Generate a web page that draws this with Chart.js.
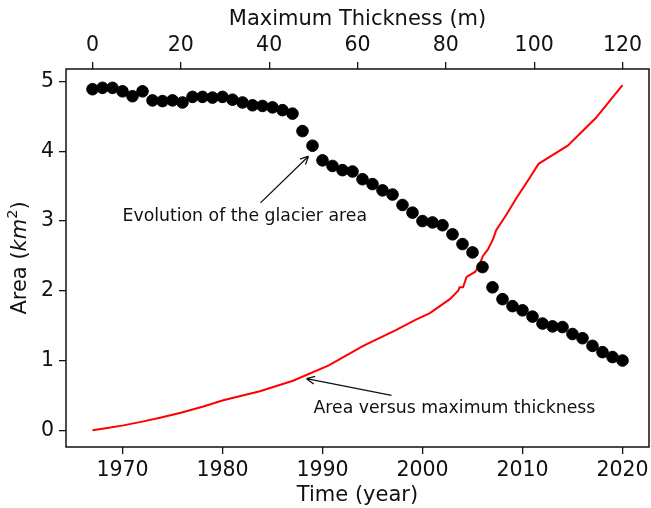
<!DOCTYPE html>
<html>
<head>
<meta charset="utf-8">
<script src="https://cdn.jsdelivr.net/npm/chart.js@4.4.0/dist/chart.umd.min.js"></script>
<style>
  html, body { margin: 0; padding: 0; background: #fff; }
  #wrap { width: 651px; height: 508px; }
</style>
</head>
<body>
<div id="wrap"><canvas id="chart"></canvas></div>
<script>
// glacier area per year (km2)
const years = [1967, 1968, 1969, 1970, 1971, 1972, 1973, 1974, 1975, 1976,
  1977, 1978, 1979, 1980, 1981, 1982, 1983, 1984, 1985, 1986,
  1987, 1988, 1989, 1990, 1991, 1992, 1993, 1994, 1995, 1996,
  1997, 1998, 1999, 2000, 2001, 2002, 2003, 2004, 2005, 2006,
  2007, 2008, 2009, 2010, 2011, 2012, 2013, 2014, 2015, 2016,
  2017, 2018, 2019, 2020];
const glacierArea = [4.89, 4.91, 4.91, 4.86, 4.79, 4.86, 4.73, 4.72, 4.73, 4.70,
  4.78, 4.78, 4.77, 4.78, 4.74, 4.70, 4.66, 4.65, 4.63, 4.59,
  4.54, 4.29, 4.08, 3.87, 3.79, 3.73, 3.71, 3.60, 3.53, 3.44,
  3.38, 3.23, 3.12, 3.00, 2.98, 2.94, 2.81, 2.67, 2.55, 2.34,
  2.05, 1.88, 1.78, 1.72, 1.63, 1.53, 1.49, 1.48, 1.38, 1.32,
  1.21, 1.12, 1.05, 1.00];

// area vs maximum thickness (m)
const thickness = [0, 3, 7, 11, 15.3, 20, 25.1, 29.6, 37.9, 45.4, 53.5, 61.3, 68.8, 73,
  76.4, 80.9, 82.8, 83.1, 83.9, 84.7, 86.6, 87.3, 88.4, 89.5, 90.7, 91.4,
  93.7, 96, 99, 101, 103.5, 107.6, 114, 120];
const thicknessArea = [0, 0.03, 0.07, 0.12, 0.18, 0.25, 0.34, 0.43, 0.56, 0.71, 0.93, 1.21, 1.44, 1.58,
  1.68, 1.88, 2.00, 2.05, 2.05, 2.20, 2.27, 2.33, 2.50, 2.59, 2.74, 2.87,
  3.09, 3.33, 3.62, 3.82, 3.92, 4.08, 4.48, 4.95];

const yearTicks = [1970, 1980, 1990, 2000, 2010, 2020];
const thicknessTicks = [0, 20, 40, 60, 80, 100, 120];
const areaTicks = [0, 1, 2, 3, 4, 5];

const notes = [
  { text: 'Evolution of the glacier area', at: [1970, 3.0], tail: [1983.8, 3.26], head: [1988.6, 3.93] },
  { text: 'Area versus maximum thickness', at: [1989.1, 0.25], tail: [1996.9, 0.50], head: [1988.4, 0.74] }
];

const FONT = 'DejaVu Sans';
const INK = '#111';
Chart.defaults.font.family = FONT;
Chart.defaults.color = INK;

const fixedTicks = list => scale => { scale.ticks = list.map(v => ({ value: v })); };
// keep the plot box fixed: no extra room for overhanging tick labels
const fixSize = (prop, px) => s => {
  s[prop] = px;
  s.paddingLeft = s.paddingRight = s.paddingTop = s.paddingBottom = 0;
};

const axisStyle = {
  grid: { display: true, drawOnChartArea: false, drawTicks: true, tickLength: 7, color: INK, lineWidth: 1.3 },
  border: { display: false },
  ticks: { color: INK, font: { size: 20.5 }, padding: 4 }
};

// frame, axis titles and arrow notes
const decorations = {
  id: 'decorations',
  afterDraw(chart) {
    const { ctx, chartArea: a, scales } = chart;
    ctx.save();
    ctx.strokeStyle = INK;
    ctx.lineWidth = 1.5;
    ctx.strokeRect(a.left, a.top, a.right - a.left, a.bottom - a.top);

    ctx.fillStyle = INK;
    ctx.font = `21px ${FONT}`;
    ctx.textAlign = 'center';
    ctx.textBaseline = 'middle';
    const cx = (a.left + a.right) / 2;
    ctx.fillText('Time (year)', cx, 496);
    ctx.fillText('Maximum Thickness (m)', cx, 20);

    // y title with italic km and superscript 2
    ctx.save();
    ctx.translate(21, (a.top + a.bottom) / 2);
    ctx.rotate(-Math.PI / 2);
    const parts = [
      ['Area (', `21px ${FONT}`, 0],
      ['km', `italic 21px ${FONT}`, 0],
      ['2', `14.5px ${FONT}`, -8],
      [')', `21px ${FONT}`, 0]
    ];
    let w = 0;
    parts.forEach(p => { ctx.font = p[1]; w += ctx.measureText(p[0]).width; });
    let x = -w / 2;
    ctx.textAlign = 'left';
    parts.forEach(p => {
      ctx.font = p[1];
      ctx.fillText(p[0], x, p[2]);
      x += ctx.measureText(p[0]).width;
    });
    ctx.restore();

    const X = scales.x, Y = scales.y;
    ctx.font = `17.3px ${FONT}`;
    ctx.textAlign = 'left';
    ctx.textBaseline = 'alphabetic';
    ctx.lineWidth = 1.3;
    notes.forEach(n => {
      ctx.fillText(n.text, X.getPixelForValue(n.at[0]), Y.getPixelForValue(n.at[1]));
      const tx = X.getPixelForValue(n.tail[0]), ty = Y.getPixelForValue(n.tail[1]);
      const hx = X.getPixelForValue(n.head[0]), hy = Y.getPixelForValue(n.head[1]);
      const ang = Math.atan2(hy - ty, hx - tx);
      ctx.beginPath();
      ctx.moveTo(tx, ty);
      ctx.lineTo(hx, hy);
      [0.45, -0.45].forEach(d => {
        ctx.moveTo(hx, hy);
        ctx.lineTo(hx - 9 * Math.cos(ang + d), hy - 9 * Math.sin(ang + d));
      });
      ctx.stroke();
    });
    ctx.restore();
  }
};

new Chart(document.getElementById('chart'), {
  type: 'scatter',
  data: {
    datasets: [
      {
        label: 'Glacier area',
        data: years.map((yr, i) => ({ x: yr, y: glacierArea[i] })),
        xAxisID: 'x',
        yAxisID: 'y',
        backgroundColor: '#000',
        borderColor: '#000',
        pointRadius: 5.8,
        pointHoverRadius: 5.8,
        showLine: false
      },
      {
        label: 'Area vs thickness',
        data: thickness.map((t, i) => ({ x: t, y: thicknessArea[i] })),
        xAxisID: 'x2',
        yAxisID: 'y',
        borderColor: '#f00',
        backgroundColor: '#f00',
        borderWidth: 2,
        pointRadius: 0,
        showLine: true,
        tension: 0
      }
    ]
  },
  options: {
    responsive: true,
    maintainAspectRatio: false,
    animation: false,
    layout: { autoPadding: false, padding: { left: 0, right: 2, top: 0, bottom: 0 } },
    plugins: { legend: { display: false }, tooltip: { enabled: false } },
    scales: {
      x: {
        type: 'linear', position: 'bottom', min: 1964.35, max: 2022.65,
        afterBuildTicks: fixedTicks(yearTicks),
        afterFit: fixSize('height', 61),
        ...axisStyle,
        ticks: { ...axisStyle.ticks, callback: v => String(v) }
      },
      x2: {
        type: 'linear', position: 'top', min: -6, max: 126,
        afterBuildTicks: fixedTicks(thicknessTicks),
        afterFit: fixSize('height', 69),
        ...axisStyle
      },
      y: {
        type: 'linear', position: 'left', min: -0.24, max: 5.18,
        afterBuildTicks: fixedTicks(areaTicks),
        afterFit: fixSize('width', 66),
        ...axisStyle,
        ticks: { ...axisStyle.ticks, padding: 5 }
      }
    }
  },
  plugins: [decorations]
});
</script>
</body>
</html>
